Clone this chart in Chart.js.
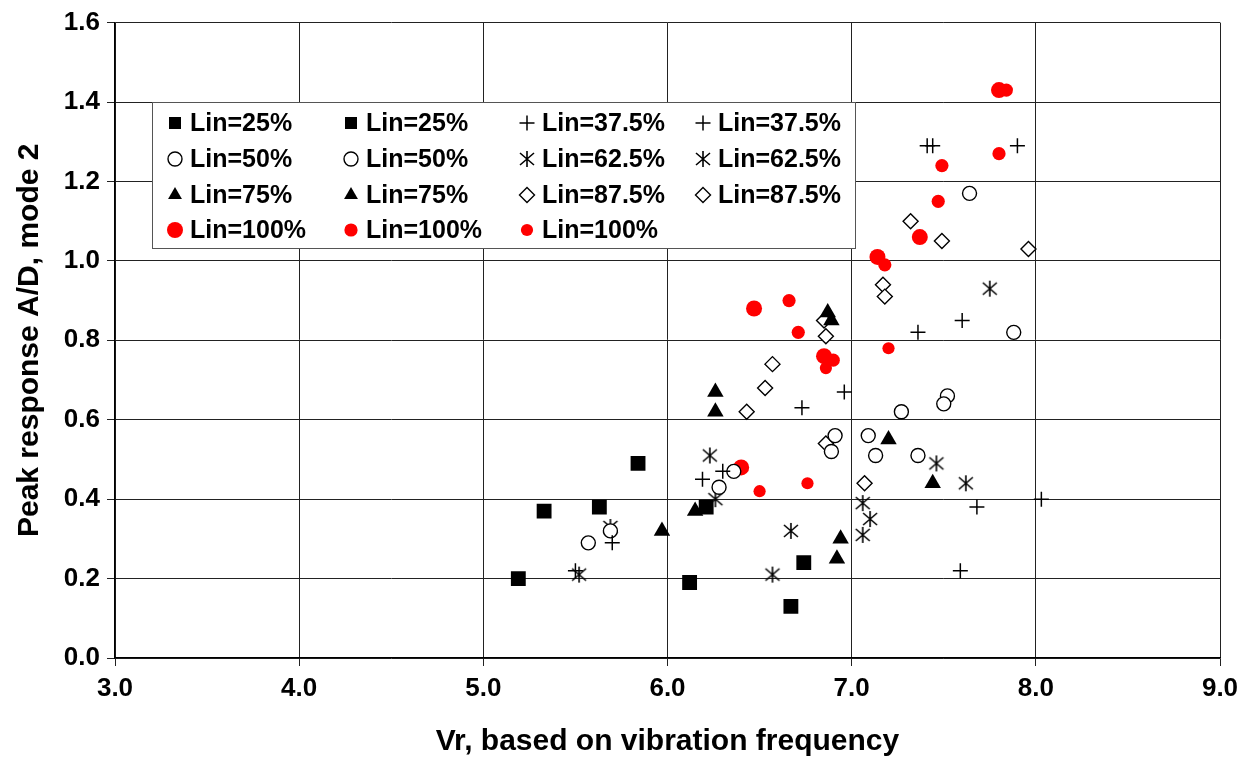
<!DOCTYPE html>
<html>
<head>
<meta charset="utf-8">
<script src="https://cdn.jsdelivr.net/npm/chart.js@4/dist/chart.umd.min.js"></script>
<style>
  html, body { margin: 0; padding: 0; background: #fff; }
  #wrap { width: 1249px; height: 762px; }
</style>
</head>
<body>
<div id="wrap"><canvas id="chart" width="1249" height="762"></canvas></div>
<script>
// Pontos: [Vr, A/D]
const lin25a = [[5.19, 0.20], [5.33, 0.37], [5.63, 0.38], [5.84, 0.49]];
const lin25b = [[6.21, 0.38], [6.12, 0.19], [6.74, 0.24], [6.67, 0.13]];
const lin375a = [[5.50, 0.22], [5.70, 0.29], [6.19, 0.45], [6.30, 0.47], [6.73, 0.63], [6.96, 0.67], [7.36, 0.82]];
const lin375b = [[7.60, 0.85], [7.41, 1.29], [7.44, 1.29], [7.90, 1.29], [7.68, 0.38], [7.59, 0.22], [8.03, 0.40]];
const lin50a = [[5.57, 0.29], [5.69, 0.32], [6.28, 0.43], [6.36, 0.47], [6.91, 0.56], [6.89, 0.52], [7.09, 0.56]];
const lin50b = [[7.13, 0.51], [7.36, 0.51], [7.27, 0.62], [7.52, 0.66], [7.50, 0.64], [7.64, 1.17], [7.88, 0.82]];
const lin625a = [[5.52, 0.21], [5.69, 0.33], [6.23, 0.51], [6.26, 0.40], [6.67, 0.32], [6.57, 0.21]];
const lin625b = [[7.06, 0.39], [7.10, 0.35], [7.06, 0.31], [7.46, 0.49], [7.62, 0.44], [7.75, 0.93]];
const lin75a = [[6.26, 0.67], [6.26, 0.62], [5.97, 0.32], [6.15, 0.37], [6.87, 0.87]];
const lin75b = [[6.94, 0.30], [6.92, 0.25], [7.20, 0.55], [7.44, 0.44], [6.89, 0.85]];
const lin875a = [[6.43, 0.62], [6.53, 0.68], [6.57, 0.74], [6.85, 0.85], [6.86, 0.81], [6.86, 0.54]];
const lin875b = [[7.07, 0.44], [7.17, 0.94], [7.18, 0.91], [7.32, 1.10], [7.49, 1.05], [7.96, 1.03]];
const lin100a = [[6.47, 0.88], [6.40, 0.48], [6.85, 0.76], [7.14, 1.01], [7.37, 1.06], [7.80, 1.43]];
const lin100b = [[6.66, 0.90], [6.71, 0.82], [6.90, 0.75], [7.18, 0.99], [7.47, 1.15], [7.80, 1.27], [7.49, 1.24], [7.84, 1.43]];
const lin100c = [[6.50, 0.42], [6.76, 0.44], [6.86, 0.73], [7.20, 0.78]];

const xTicks = [3, 4, 5, 6, 7, 8, 9];
const yTicks = [0, 0.2, 0.4, 0.6, 0.8, 1.0, 1.2, 1.4, 1.6];

const FONT = "'Liberation Sans', Arial, sans-serif";

// Asterisco estilo Excel (X com traço vertical)
function makeAsterisk() {
    const c = document.createElement('canvas');
    c.width = 18; c.height = 18;
    const g = c.getContext('2d');
    g.strokeStyle = '#000';
    g.lineWidth = 1.6;
    g.beginPath();
    g.moveTo(2, 3); g.lineTo(16, 15);
    g.moveTo(16, 3); g.lineTo(2, 15);
    g.moveTo(9, 1); g.lineTo(9, 17);
    g.stroke();
    return c;
}
const asterisk = makeAsterisk();

const toPts = arr => arr.map(p => ({ x: p[0], y: p[1] }));

const square = { pointStyle: 'rect', pointRadius: 10.5, backgroundColor: '#000', borderColor: '#000', borderWidth: 0 };
const plus = { pointStyle: 'cross', pointRadius: 7.5, backgroundColor: '#000', borderColor: '#000', borderWidth: 1.5 };
const ring = { pointStyle: 'circle', pointRadius: 7, backgroundColor: '#fff', borderColor: '#000', borderWidth: 1.4 };
const star = { pointStyle: asterisk, pointRadius: 9, backgroundColor: '#000', borderColor: '#000', borderWidth: 1 };
const tri = { pointStyle: 'triangle', pointRadius: 9.5, backgroundColor: '#000', borderColor: '#000', borderWidth: 0 };
const diamond = { pointStyle: 'rectRot', pointRadius: 7.5, backgroundColor: '#fff', borderColor: '#000', borderWidth: 1.4 };
const redBig = { pointStyle: 'circle', pointRadius: 8, backgroundColor: '#ff0000', borderColor: '#ff0000', borderWidth: 0 };
const redMid = { pointStyle: 'circle', pointRadius: 6.6, backgroundColor: '#ff0000', borderColor: '#ff0000', borderWidth: 0 };
const redSmall = { pointStyle: 'circle', pointRadius: 6.1, backgroundColor: '#ff0000', borderColor: '#ff0000', borderWidth: 0 };

const series = [
    ['Lin=25%', lin25a, square], ['Lin=25%', lin25b, square],
    ['Lin=37.5%', lin375a, plus], ['Lin=37.5%', lin375b, plus],
    ['Lin=50%', lin50a, ring], ['Lin=50%', lin50b, ring],
    ['Lin=62.5%', lin625a, star], ['Lin=62.5%', lin625b, star],
    ['Lin=75%', lin75a, tri], ['Lin=75%', lin75b, tri],
    ['Lin=87.5%', lin875a, diamond], ['Lin=87.5%', lin875b, diamond],
    ['Lin=100%', lin100a, redBig], ['Lin=100%', lin100b, redMid], ['Lin=100%', lin100c, redSmall]
];

const datasets = series.map(([label, pts, st]) => ({
    label,
    data: toPts(pts),
    showLine: false,
    pointStyle: st.pointStyle,
    pointRadius: st.pointRadius,
    pointHoverRadius: st.pointRadius,
    pointBackgroundColor: st.backgroundColor,
    pointBorderColor: st.borderColor,
    pointBorderWidth: st.borderWidth,
    backgroundColor: st.backgroundColor,
    borderColor: st.borderColor
}));

// Legenda em caixa, 4 colunas, dentro da área do gráfico
const boxLegend = {
    id: 'boxLegend',
    afterDatasetsDraw(chart) {
        const ctx = chart.ctx;
        const box = { left: 152, top: 102, right: 855, bottom: 248 };
        const colX = [175, 351, 527, 703];
        const rowY = [123, 159, 195, 230];
        ctx.save();
        ctx.fillStyle = '#fff';
        ctx.fillRect(box.left, box.top, box.right - box.left, box.bottom - box.top);
        ctx.strokeStyle = '#555';
        ctx.lineWidth = 1;
        ctx.strokeRect(box.left + 0.5, box.top + 0.5, box.right - box.left, box.bottom - box.top);
        series.forEach(([label, , st], i) => {
            const cx = colX[i % 4];
            const cy = rowY[Math.floor(i / 4)];
            ctx.fillStyle = st.backgroundColor;
            ctx.strokeStyle = st.borderColor;
            ctx.lineWidth = st.borderWidth;
            let r = st.pointRadius;
            if (st === square) r = 8.5;
            if (st === tri) r = 8;
            Chart.helpers.drawPoint(ctx, { pointStyle: st.pointStyle, radius: r, rotation: 0, borderWidth: st.borderWidth }, cx, cy);
            ctx.fillStyle = '#000';
            ctx.font = `bold 25px ${FONT}`;
            ctx.textBaseline = 'middle';
            ctx.textAlign = 'left';
            ctx.fillText(label, cx + 15, cy + 1);
        });
        ctx.restore();
    }
};

new Chart(document.getElementById('chart'), {
    type: 'scatter',
    data: { datasets },
    options: {
        responsive: false,
        animation: false,
        devicePixelRatio: 1,
        layout: { padding: { top: 19, right: 29, left: 0, bottom: 0 } },
        plugins: {
            legend: { display: false },
            tooltip: { enabled: false }
        },
        scales: {
            x: {
                type: 'linear',
                min: xTicks[0],
                max: xTicks[xTicks.length - 1],
                afterBuildTicks: s => { s.ticks = xTicks.map(v => ({ value: v })); },
                afterFit: s => { s.height = 104; },
                ticks: {
                    color: '#000',
                    padding: 7,
                    maxRotation: 0,
                    font: { family: FONT, size: 26, weight: 'bold' },
                    callback: v => v.toFixed(1)
                },
                grid: { color: '#222', lineWidth: 1, tickLength: 8 },
                border: { color: '#000', width: 1.3 },
                title: {
                    display: true,
                    text: 'Vr, based on vibration frequency',
                    color: '#000',
                    font: { family: FONT, size: 30, weight: 'bold' },
                    padding: { top: 0, bottom: 2 }
                }
            },
            y: {
                type: 'linear',
                min: yTicks[0],
                max: yTicks[yTicks.length - 1],
                afterBuildTicks: s => { s.ticks = yTicks.map(v => ({ value: v })); },
                afterFit: s => { s.width = 115; },
                ticks: {
                    color: '#000',
                    padding: 7,
                    font: { family: FONT, size: 26, weight: 'bold' },
                    callback: v => v.toFixed(1)
                },
                grid: { color: '#222', lineWidth: 1, tickLength: 8 },
                border: { color: '#000', width: 1.3 },
                title: {
                    display: true,
                    text: 'Peak response A/D, mode 2',
                    color: '#000',
                    font: { family: FONT, size: 30, weight: 'bold' },
                    padding: { top: 12, bottom: 0 }
                }
            }
        }
    },
    plugins: [boxLegend]
});
</script>
</body>
</html>
